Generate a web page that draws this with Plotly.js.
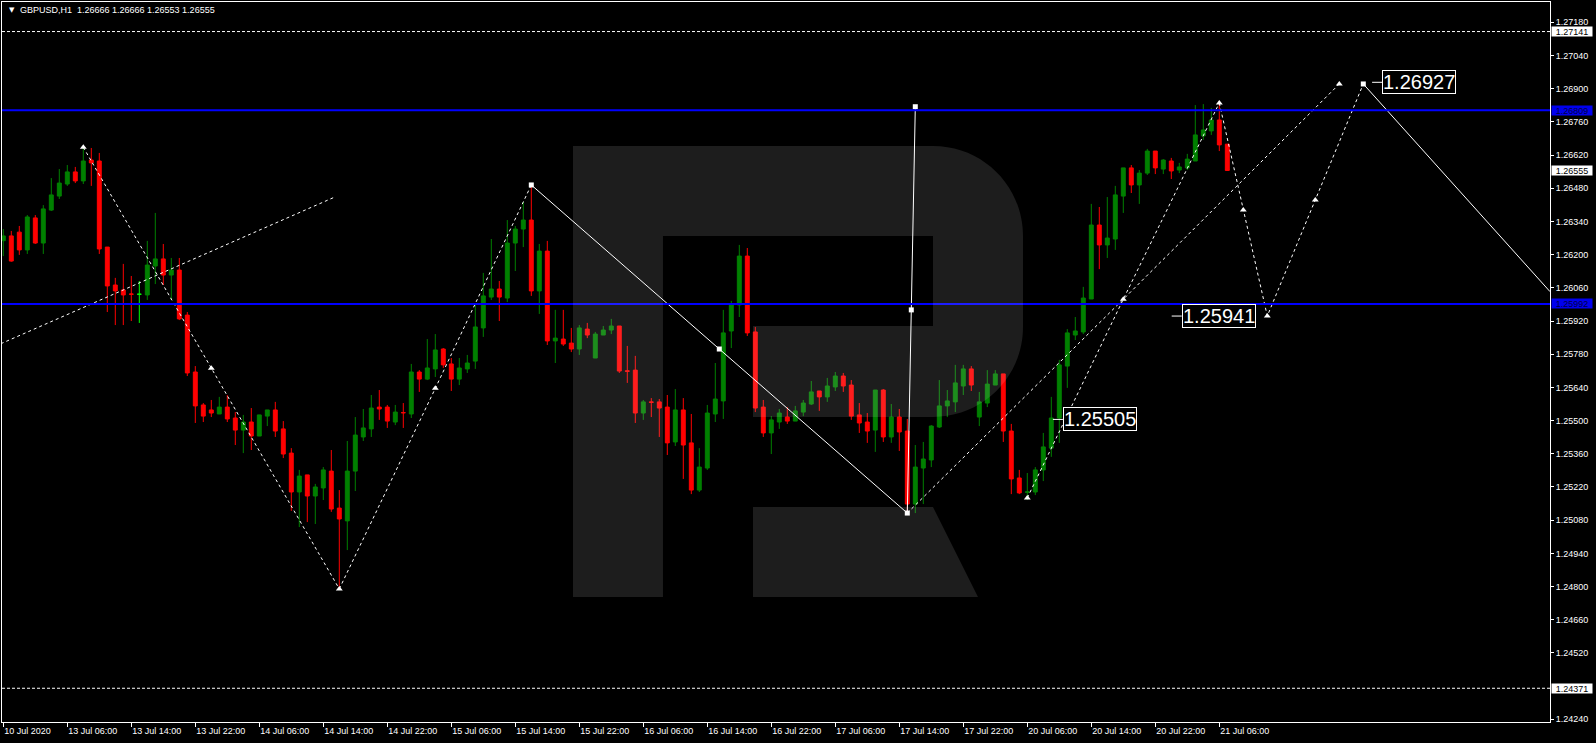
<!DOCTYPE html>
<html><head><meta charset="utf-8">
<script src="https://cdn.plot.ly/plotly-3.0.1.min.js"></script>
<style>html,body{margin:0;padding:0;background:#000;}#chart{width:1596px;height:743px;}</style>
</head><body><div id="chart"></div>
<script>
const symbolName = 'GBPUSD,H1';
const open = [1.26259,1.26279,1.26295,1.26220,1.26355,1.26249,1.26388,1.26447,1.26498,1.26549,1.26511,1.26599,1.26595,1.26232,1.26072,1.26051,1.26034,1.26033,1.26030,1.26152,1.26182,1.26114,1.26135,1.25945,1.25705,1.25566,1.25545,1.25528,1.25557,1.25511,1.25460,1.25494,1.25435,1.25519,1.25545,1.25465,1.25363,1.25199,1.25271,1.25182,1.25216,1.25287,1.25131,1.25077,1.25287,1.25431,1.25465,1.25557,1.25557,1.25494,1.25534,1.25528,1.25705,1.25675,1.25718,1.25802,1.25739,1.25675,1.25718,1.25751,1.25891,1.26021,1.26055,1.26017,1.26249,1.26308,1.26346,1.26047,1.26215,1.25836,1.25844,1.25827,1.25802,1.25886,1.25764,1.25861,1.25882,1.25899,1.25710,1.25713,1.25532,1.25579,1.25579,1.25557,1.25410,1.25545,1.25406,1.25207,1.25300,1.25528,1.25583,1.25878,1.25988,1.26194,1.25874,1.25557,1.25448,1.25494,1.25515,1.25498,1.25536,1.25570,1.25625,1.25600,1.25642,1.25688,1.25650,1.25524,1.25494,1.25460,1.25629,1.25431,1.25515,1.25456,1.25148,1.25300,1.25334,1.25473,1.25562,1.25579,1.25646,1.25718,1.25515,1.25574,1.25650,1.25697,1.25456,1.25258,1.25198,1.25199,1.25292,1.25384,1.25511,1.25730,1.25861,1.25874,1.26013,1.26325,1.26241,1.26266,1.26447,1.26566,1.26494,1.26544,1.26637,1.26561,1.26595,1.26557,1.26566,1.26595,1.26701,1.26722,1.26768,1.26666];
const high = [1.26308,1.26300,1.26321,1.26367,1.26367,1.26409,1.26523,1.26561,1.26578,1.26570,1.26658,1.26650,1.26629,1.26232,1.26102,1.26161,1.26110,1.26089,1.26258,1.26376,1.26245,1.26186,1.26186,1.25958,1.25730,1.25574,1.25587,1.25600,1.25608,1.25536,1.25524,1.25553,1.25524,1.25545,1.25579,1.25498,1.25384,1.25292,1.25271,1.25233,1.25304,1.25376,1.25207,1.25414,1.25515,1.25549,1.25608,1.25629,1.25566,1.25566,1.25574,1.25739,1.25713,1.25844,1.25865,1.25806,1.25764,1.25764,1.25777,1.25988,1.26123,1.26266,1.26089,1.26346,1.26321,1.26422,1.26494,1.26245,1.26258,1.25967,1.25967,1.25891,1.25903,1.25912,1.25874,1.25899,1.25929,1.25899,1.25815,1.25773,1.25587,1.25595,1.25591,1.25608,1.25633,1.25595,1.25528,1.25384,1.25566,1.25743,1.25967,1.26005,1.26241,1.26228,1.25895,1.25587,1.25519,1.25549,1.25557,1.25562,1.25587,1.25667,1.25625,1.25680,1.25705,1.25701,1.25671,1.25574,1.25532,1.25629,1.25633,1.25570,1.25549,1.25507,1.25397,1.25410,1.25481,1.25671,1.25629,1.25735,1.25735,1.25730,1.25621,1.25713,1.25713,1.25697,1.25486,1.25292,1.25279,1.25304,1.25448,1.25600,1.25756,1.25886,1.25937,1.26064,1.26414,1.26401,1.26443,1.26490,1.26566,1.26578,1.26557,1.26646,1.26637,1.26603,1.26608,1.26587,1.26625,1.26831,1.26835,1.26819,1.26848,1.26666];
const low = [1.26194,1.26170,1.26199,1.26203,1.26245,1.26203,1.26384,1.26435,1.26490,1.26502,1.26498,1.26490,1.26203,1.25958,1.25903,1.25903,1.25920,1.25912,1.26009,1.26076,1.26072,1.26009,1.25924,1.25688,1.25490,1.25494,1.25515,1.25528,1.25494,1.25397,1.25363,1.25376,1.25435,1.25477,1.25431,1.25342,1.25119,1.25051,1.25072,1.25064,1.25165,1.25115,1.24790,1.24954,1.25203,1.25414,1.25431,1.25503,1.25469,1.25481,1.25469,1.25511,1.25621,1.25671,1.25684,1.25722,1.25625,1.25650,1.25701,1.25718,1.25853,1.26009,1.25920,1.26000,1.26131,1.26232,1.26026,1.25950,1.25819,1.25743,1.25815,1.25789,1.25777,1.25848,1.25764,1.25861,1.25865,1.25701,1.25659,1.25490,1.25503,1.25515,1.25431,1.25355,1.25393,1.25254,1.25190,1.25199,1.25292,1.25494,1.25507,1.25806,1.25937,1.25857,1.25536,1.25431,1.25359,1.25465,1.25486,1.25498,1.25519,1.25566,1.25541,1.25579,1.25625,1.25621,1.25503,1.25448,1.25406,1.25368,1.25410,1.25406,1.25372,1.25110,1.25110,1.25148,1.25304,1.25469,1.25515,1.25536,1.25608,1.25625,1.25477,1.25557,1.25650,1.25410,1.25190,1.25190,1.25165,1.25186,1.25245,1.25347,1.25406,1.25638,1.25840,1.25865,1.26013,1.26139,1.26186,1.26220,1.26376,1.26460,1.26414,1.26536,1.26540,1.26540,1.26519,1.26544,1.26557,1.26595,1.26684,1.26705,1.26637,1.26553];
const close = [1.26279,1.26173,1.26220,1.26359,1.26249,1.26393,1.26452,1.26502,1.26549,1.26511,1.26595,1.26587,1.26224,1.26068,1.26047,1.26030,1.26033,1.26033,1.26156,1.26182,1.26114,1.26135,1.25929,1.25701,1.25562,1.25519,1.25532,1.25557,1.25507,1.25460,1.25494,1.25435,1.25524,1.25545,1.25456,1.25359,1.25199,1.25266,1.25182,1.25220,1.25292,1.25127,1.25085,1.25287,1.25439,1.25469,1.25553,1.25549,1.25498,1.25536,1.25533,1.25705,1.25675,1.25722,1.25798,1.25735,1.25675,1.25722,1.25743,1.25895,1.26026,1.26055,1.26021,1.26249,1.26308,1.26346,1.26047,1.26215,1.25836,1.25848,1.25823,1.25802,1.25891,1.25861,1.25865,1.25882,1.25899,1.25709,1.25708,1.25532,1.25579,1.25577,1.25553,1.25406,1.25545,1.25397,1.25207,1.25304,1.25532,1.25591,1.25870,1.25988,1.26194,1.25870,1.25553,1.25448,1.25503,1.25532,1.25498,1.25541,1.25574,1.25621,1.25600,1.25646,1.25688,1.25646,1.25519,1.25490,1.25456,1.25629,1.25431,1.25515,1.25452,1.25148,1.25304,1.25338,1.25477,1.25562,1.25583,1.25659,1.25718,1.25650,1.25579,1.25654,1.25697,1.25456,1.25254,1.25195,1.25199,1.25292,1.25389,1.25511,1.25735,1.25870,1.25878,1.26017,1.26325,1.26241,1.26270,1.26452,1.26566,1.26494,1.26544,1.26637,1.26566,1.26599,1.26553,1.26570,1.26603,1.26705,1.26726,1.26768,1.26663,1.26555];

const timeTickIndex = [0,8,16,24,32,40,48,56,64,72,80,88,96,104,112,120,128,136,144,152];
const timeTickText = ['10 Jul 2020','13 Jul 06:00','13 Jul 14:00','13 Jul 22:00','14 Jul 06:00','14 Jul 14:00','14 Jul 22:00','15 Jul 06:00','15 Jul 14:00','15 Jul 22:00','16 Jul 06:00','16 Jul 14:00','16 Jul 22:00','17 Jul 06:00','17 Jul 14:00','17 Jul 22:00','20 Jul 06:00','20 Jul 14:00','20 Jul 22:00','21 Jul 06:00'];
const priceTicks = [1.24240,1.24520,1.24660,1.24800,1.24940,1.25080,1.25220,1.25360,1.25500,1.25640,1.25780,1.25920,1.26060,1.26200,1.26340,1.26480,1.26620,1.26760,1.26900,1.27040,1.27180];

const blueLevels = [1.26809, 1.25992];
const dashedLevels = [1.27141, 1.24371];

// analyst's wave / forecast lines (bar index, price)
const waveDownX = [10, 26, 42];        const waveDownY = [1.26653, 1.25721, 1.24790];
const trendX = [-1, 41.5];             const trendY = [1.25814, 1.26444];
const waveUpX = [42, 54, 66];          const waveUpY = [1.24790, 1.25636, 1.26494];
const solidDownX = [66, 113];          const solidDownY = [1.26494, 1.25110];
const spikeX = [113, 114];             const spikeY = [1.25110, 1.26824];
const channelAX = [113, 140, 167];     const channelAY = [1.25110, 1.26012, 1.26920];
const channelBX = [128, 140, 152];     const channelBY = [1.25174, 1.26012, 1.26840];
const forecastX = [152, 155, 158, 164, 170]; const forecastY = [1.26840, 1.26388, 1.25941, 1.26431, 1.26920];
const targetX = [170, 193.34];         const targetY = [1.26920, 1.26044];
const arrowX = [10, 26, 42, 54, 128, 140, 152, 155, 158, 164, 167];
const arrowY = [1.26653, 1.25721, 1.24790, 1.25636, 1.25174, 1.26012, 1.26840, 1.26388, 1.25941, 1.26431, 1.26920];
const squareX = [66, 89.5, 113, 113.5, 114, 170];
const squareY = [1.26494, 1.25802, 1.25110, 1.25967, 1.26824, 1.26920];
const labelX = [131.2, 146.05, 171.1];
const labelY = [1.25505, 1.25941, 1.26927];

const idx = open.map((_, i) => i);
const regular = idx.filter(i => open[i] !== close[i]);
const doji = idx.filter(i => open[i] === close[i]);
const pick = (arr, list) => list.map(i => arr[i]);

const W = '#ffffff';
const dash = {color: W, width: 1, dash: '3px,3px'};
const solid = {color: W, width: 1};
const traces = [
  {type: 'candlestick', x: pick(idx, regular), open: pick(open, regular), high: pick(high, regular), low: pick(low, regular), close: pick(close, regular),
   increasing: {line: {color: '#008000', width: 1}, fillcolor: '#008000'},
   decreasing: {line: {color: '#ff0000', width: 1}, fillcolor: '#ff0000'}, whiskerwidth: 0, hoverinfo: 'skip'},
  {type: 'candlestick', x: pick(idx, doji), open: pick(open, doji), high: pick(high, doji), low: pick(low, doji), close: pick(close, doji),
   increasing: {line: {color: '#00ff00', width: 1}, fillcolor: '#00ff00'},
   decreasing: {line: {color: '#00ff00', width: 1}, fillcolor: '#00ff00'}, whiskerwidth: 0, hoverinfo: 'skip'},
  {type: 'scatter', mode: 'lines', x: trendX, y: trendY, line: dash},
  {type: 'scatter', mode: 'lines', x: waveDownX, y: waveDownY, line: dash},
  {type: 'scatter', mode: 'lines', x: waveUpX, y: waveUpY, line: dash},
  {type: 'scatter', mode: 'lines', x: solidDownX, y: solidDownY, line: solid},
  {type: 'scatter', mode: 'lines', x: spikeX, y: spikeY, line: solid},
  {type: 'scatter', mode: 'lines', x: channelAX, y: channelAY, line: dash},
  {type: 'scatter', mode: 'lines', x: channelBX, y: channelBY, line: dash},
  {type: 'scatter', mode: 'lines', x: forecastX, y: forecastY, line: dash},
  {type: 'scatter', mode: 'lines', x: targetX, y: targetY, line: solid},
  {type: 'scatter', mode: 'markers', x: arrowX, y: arrowY, marker: {symbol: 'triangle-up', size: 6, color: W, line: {width: 0}}},
  {type: 'scatter', mode: 'markers', x: squareX, y: squareY, marker: {symbol: 'square', size: 5, color: W, line: {width: 0}}}
];

// plot area in pixels: left 2, top 2, width 1548, height 720
const pX = px => (px - 2) / 1548;
const pY = py => 1 - (py - 2) / 720;
const logoPts = 'M573,146 L933,146 C983,146 1023,186 1023,236 L1023,327 C1023,377 983,417 933,417 L753,417 L753,326 L933,326 L933,236 L663,236 L663,597 L573,597 Z M753,507 L933,507 L978,597 L753,597 Z';
const logoPath = logoPts.replace(/(-?\d+(?:\.\d+)?),(-?\d+(?:\.\d+)?)/g, (m, a, b) => pX(+a).toFixed(5) + ',' + pY(+b).toFixed(5));

const shapes = [];
blueLevels.forEach(v => shapes.push({type: 'line', xref: 'paper', x0: 0, x1: 1, yref: 'y', y0: v, y1: v, line: {color: '#0000ff', width: 2}}));
dashedLevels.forEach(v => shapes.push({type: 'line', xref: 'paper', x0: 0, x1: 1, yref: 'y', y0: v, y1: v, line: {color: W, width: 1, dash: '3px,2px'}}));
shapes.push({type: 'path', xref: 'paper', yref: 'paper', path: logoPath, fillcolor: 'rgba(255,255,255,0.115)', line: {width: 0}, layer: 'above'});

const f9 = {family: 'Liberation Sans, Arial, sans-serif', size: 9, color: W};
const last = open.length - 1;
const annotations = [];
annotations.push({xref: 'paper', yref: 'paper', x: pX(7), y: pY(10.5), xanchor: 'left', yanchor: 'middle', showarrow: false, text: '▼', font: {family: 'DejaVu Sans', size: 7, color: W}});
annotations.push({xref: 'paper', yref: 'paper', x: pX(18), y: pY(10.5), xanchor: 'left', yanchor: 'middle', showarrow: false,
  text: symbolName + '\u00a0\u00a0' + [open[last], high[last], low[last], close[last]].map(v => v.toFixed(5)).join(' '), font: f9});
const axisBoxes = [
  {v: dashedLevels[0], bg: '#ffffff', fg: '#000000'},
  {v: blueLevels[0], bg: '#0000ee', fg: '#000044'},
  {v: close[last], bg: '#ffffff', fg: '#000000'},
  {v: blueLevels[1], bg: '#0000ee', fg: '#000044'},
  {v: dashedLevels[1], bg: '#ffffff', fg: '#000000'}
];
axisBoxes.forEach(b => annotations.push({xref: 'paper', yref: 'y', x: 1, y: b.v, xanchor: 'left', yanchor: 'middle', xshift: 1, showarrow: false,
  text: b.v.toFixed(5), bgcolor: b.bg, font: {family: f9.family, size: 9, color: b.fg}, width: 40, height: 9, borderpad: 0, align: 'center'}));
labelX.forEach((x, i) => annotations.push({x: x, y: labelY[i], xref: 'x', yref: 'y', showarrow: true, ax: 10, ay: 0, xanchor: 'left', yanchor: 'middle',
  arrowhead: 0, arrowwidth: 1, arrowcolor: W, standoff: 0, startstandoff: 0, text: labelY[i].toFixed(5),
  font: {family: 'Liberation Sans, Arial, sans-serif', size: 20, color: W}, bgcolor: '#000000', bordercolor: W, borderwidth: 1, borderpad: 0}));

const layout = {
  width: 1596, height: 743, paper_bgcolor: '#000000', plot_bgcolor: '#000000', showlegend: false,
  margin: {l: 2, r: 46, t: 2, b: 21, autoexpand: false},
  xaxis: {range: [-0.1625, 193.3375], showgrid: false, zeroline: false, showline: true, mirror: true, linecolor: W, linewidth: 1,
    ticks: 'outside', ticklen: 4, tickcolor: W, tickwidth: 1, tickmode: 'array', tickvals: timeTickIndex, ticktext: timeTickText,
    ticklabelposition: 'outside right', tickfont: f9, rangeslider: {visible: false}, fixedrange: true},
  yaxis: {range: [1.242287, 1.272657], side: 'right', showgrid: false, zeroline: false, showline: true, mirror: true, linecolor: W, linewidth: 1,
    ticks: 'outside', ticklen: 3, tickcolor: W, tickwidth: 1, tickmode: 'array', tickvals: priceTicks, ticktext: priceTicks.map(v => v.toFixed(5)),
    tickfont: f9, fixedrange: true},
  shapes: shapes, annotations: annotations
};
Plotly.newPlot('chart', traces, layout, {staticPlot: true, displayModeBar: false});
</script></body></html>
